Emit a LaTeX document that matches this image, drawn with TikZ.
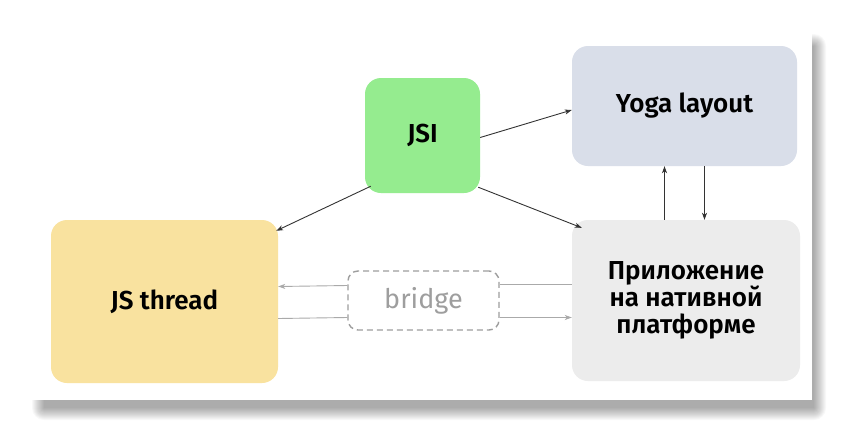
\documentclass[tikz,border=0pt]{standalone}
\usepackage{fontspec}
\setmainfont{Fira Sans}[BoldFont={Fira Sans SemiBold}]
\usepackage{xcolor}
\usetikzlibrary{arrows.meta,calc}

\definecolor{jsigreen}{HTML}{95EC8F}
\definecolor{yogablue}{HTML}{D9DEE9}
\definecolor{threadyellow}{HTML}{F9E29F}
\definecolor{nativegray}{HTML}{ECECEC}
\definecolor{bridgegray}{HTML}{9E9E9E}
\definecolor{flowgray}{HTML}{AAAAAA}
\definecolor{arrowdark}{HTML}{333333}

\tikzset{
    block/.style={rectangle, rounded corners=16pt, align=center, inner sep=0pt,
        font=\bfseries\fontsize{26}{27}\selectfont, text=black},
    link/.style={draw=arrowdark, line width=0.9pt, -{Stealth[length=7pt, width=5pt, inset=2pt]}},
    flow/.style={draw=flowgray, line width=0.9pt},
    flowarrow/.style={flow, -{Stealth[length=7pt, width=5pt, inset=2pt]}}
}

\begin{document}
\begin{tikzpicture}[x=1pt, y=-1pt]
% page and card
\fill[white] (0,0) rectangle (844,432);
\foreach \r in {0,...,12}
    \fill[black, opacity=0.028, rounded corners=\r pt] (44-\r,46-\r) rectangle (814+\r,408+\r);
\fill[white] (32,33) rectangle (812,400);

% nodes
\node[block, fill=jsigreen, minimum width=115pt, minimum height=115pt] (jsi) at (422.5,135.5) {JSI};
\node[block, fill=yogablue, minimum width=225pt, minimum height=120pt] (yoga) at (684.5,106) {Yoga layout};
\node[block, fill=threadyellow, minimum width=227pt, minimum height=163pt] (thread) at (164.5,301.5) {JS thread};
\node[block, fill=nativegray, minimum width=228pt, minimum height=161pt] (native) at (686,300.5) {Приложение\\на нативной\\платформе};
\node[rectangle, rounded corners=10pt, draw=bridgegray, line width=1.4pt, dash pattern=on 6pt off 4pt,
    minimum width=151pt, minimum height=59pt, text=bridgegray,
    font=\fontsize{27}{27}\selectfont] (bridge) at (423.5,300.5) {bridge};

% JSI links
\draw[link] ([yshift=-2pt]jsi.east) -- ([yshift=-4pt]yoga.west);
\draw[link] ([shift={(6pt,7pt)}]jsi.south west) -- ([shift={(-2pt,-11pt)}]thread.north east);
\draw[link] ([shift={(-2pt,6pt)}]jsi.south east) -- ([shift={(10pt,-8pt)}]native.north west);

% Yoga <-> native
\coordinate (up) at ([xshift=-20pt]yoga.south);
\coordinate (down) at ([xshift=20pt]yoga.south);
\draw[link] (up |- native.north) -- (up);
\draw[link] (down) -- (down |- native.north);

% bridge traffic
\draw[flow] ([yshift=16pt]native.west) -- ([yshift=16pt]bridge.east);
\draw[flowarrow] ([yshift=15pt]bridge.west) -- ([yshift=15pt]thread.east);
\draw[flow] ([yshift=-17pt]thread.east) -- ([yshift=-17pt]bridge.west);
\draw[flowarrow] ([yshift=-17pt]bridge.east) -- ([yshift=-17pt]native.west);
\end{tikzpicture}
\end{document}
